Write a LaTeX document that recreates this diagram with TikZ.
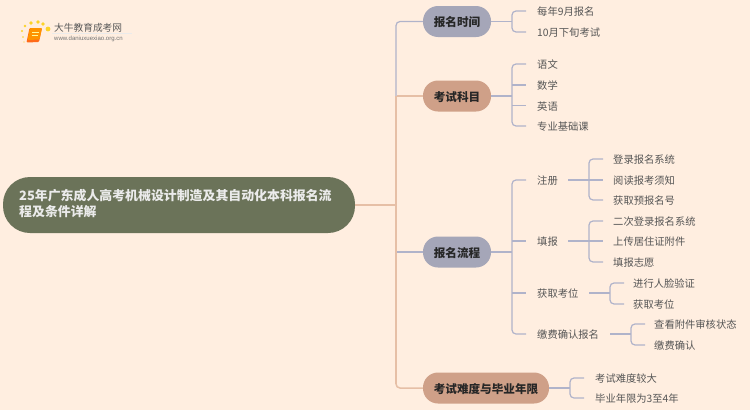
\documentclass[tikz,border=0pt]{standalone}
\usepackage{fontspec}
\setmainfont{Noto Sans CJK SC}
\newfontfamily\logofont{Liberation Sans}
\definecolor{bgc}{HTML}{FFEEE0}
\definecolor{rootc}{HTML}{6B7359}
\definecolor{graybox}{HTML}{A5A6B8}
\definecolor{peachbox}{HTML}{CFA088}
\definecolor{graylink}{HTML}{B0B3CA}
\definecolor{peachlink}{HTML}{E6BFA6}
\definecolor{leaftxt}{HTML}{555555}
\tikzset{
  x=1pt,y=-1pt,
  rootnode/.style={rounded corners=27pt,fill=rootc,draw=none,minimum width=352pt,minimum height=56pt,inner sep=0pt},
  mainnode/.style={rounded corners=15pt,draw=none,minimum height=31pt,inner sep=0pt,text height=11.6pt,text depth=1.4pt,font=\fontsize{11.6}{14}\selectfont\bfseries,text=black!85},
  leaf/.style={anchor=west,inner sep=0pt,yshift=-.8pt,font=\fontsize{10.3}{12}\selectfont,text=leaftxt},
  glink/.style={draw=graylink,line width=1.2pt,rounded corners=4pt},
  plink/.style={draw=peachlink,line width=1.5pt,rounded corners=4pt},
}
\begin{document}
\begin{tikzpicture}
\useasboundingbox (0,0) rectangle (750,410);
\fill[bgc] (0,0) rectangle (750,410);
% logo
\foreach \a/\b/\r in {25/26/1.4,22/31/1.1,23/37/.9,24/42/.7,31/23/1.9,38/22/1.9,43/24/1.9,48/29/2.4}
  \fill[yellow!65!orange!85!white] (\a,\b) circle (\r);
\fill[orange!70!red!90!white,rounded corners=1pt] (29.5,28) -- (42,28) -- (39,42) -- (26.5,42.5) -- cycle;
\fill[orange!85!yellow,rounded corners=1pt] (30,28) -- (42,28) -- (39.5,39.5) -- (27.5,40) -- cycle;
\draw[white!60!yellow,line width=.4pt] (32,32) -- (38.5,32) (31.5,35) -- (38,35);
\draw[black!8,line width=.5pt] (52,33.5) -- (132,33.5);
\node[inner sep=0pt,anchor=west,text=black!65] (logoa) at (54,27.5) {\fontsize{9.7}{12}\selectfont 大牛教育成考网};
\node[inner sep=0pt,anchor=west,text=black!55] (logob) at (54,39) {\logofont\fontsize{6.05}{7}\selectfont www.daniuxuexiao.org.cn};
% root
\node[rootnode] (root) at (179,205) {};
\node[inner sep=0pt,anchor=north west,text width=320pt,align=left,text=white!92!black,font=\fontsize{12.9}{15.5}\selectfont\bfseries] (roottxt) at (19,188.8) {25年广东成人高考机械设计制造及其自动化本科报名流\\[.6pt]程及条件详解};
% main nodes
\node[mainnode,fill=graybox,minimum width=68pt] (m1) at (457,21.5) {报名时间};
\node[mainnode,fill=peachbox,minimum width=68pt] (m2) at (457,96) {考试科目};
\node[mainnode,fill=graybox,minimum width=68pt] (m3) at (457,252) {报名流程};
\node[mainnode,fill=peachbox,minimum width=126pt] (m4) at (486,388) {考试难度与毕业年限};
% leaves
\node[leaf] (a1) at (537,11) {每年9月报名};
\node[leaf] (a2) at (537,32) {10月下旬考试};
\node[leaf] (b1) at (537,64) {语文};
\node[leaf] (b2) at (537,85) {数学};
\node[leaf] (b3) at (537,105.5) {英语};
\node[leaf] (b4) at (537,126) {专业基础课};
\node[leaf] (c1) at (537,180) {注册};
\node[leaf] (c2) at (537,241) {填报};
\node[leaf] (c3) at (537,293) {获取考位};
\node[leaf] (c4) at (537,334) {缴费确认报名};
\node[leaf] (d1) at (613,159) {登录报名系统};
\node[leaf] (d2) at (613,180) {阅读报考须知};
\node[leaf] (d3) at (613,200) {获取预报名号};
\node[leaf] (e1) at (613,221) {二次登录报名系统};
\node[leaf] (e2) at (613,241) {上传居住证附件};
\node[leaf] (e3) at (613,262) {填报志愿};
\node[leaf] (f1) at (633,283) {进行人脸验证};
\node[leaf] (f2) at (633,304) {获取考位};
\node[leaf] (g1) at (654,324) {查看附件审核状态};
\node[leaf] (g2) at (654,345) {缴费确认};
\node[leaf] (h1) at (595,378) {考试难度较大};
\node[leaf] (h2) at (595,398) {毕业年限为3至4年};
% coordinates for free ends of branches
\foreach \n/\x/\y in {ca1/526/11,ca2/526/32,cb1/526/64,cb2/526/85,cb3/526/105.5,cb4/526/126,
  cc1/526/180,cc2/526/241,cc3/526/293,cc4/526/334,
  cd1/603/159,cd2/603/180,cd3/603/200,ce1/603/221,ce2/603/241,ce3/603/262,
  cf1/624/283,cf2/624/304,cg1/645/324,cg2/645/345,ch1/584/378,ch2/584/398,
  sc1/568/180,sc2/568/241,sc3/589/293,sc4/610/334}
  \coordinate (\n) at (\x,\y);
% spine
\draw[glink] (m1.west) -- (396,21.5) -- (396,96);
\draw[glink] (396,252) -- (m3.west);
\draw[plink] (root.east) -- (396,205);
\draw[plink,rounded corners=0pt] (396,96) -- (396,384);
\draw[plink] (m2.west) -- (396.6,96);
\draw[plink] (396,380) -- (396,388) -- (m4.west);
% branches
\draw[glink] (m1.east) -- (512,21.5);
\draw[glink] (ca1) -- (512,11) -- (512,32) -- (ca2);
\draw[glink] (m2.east) -- (512,96);
\draw[glink] (cb1) -- (512,64) -- (512,126) -- (cb4);
\draw[glink] (512,85) -- (cb2) (512,105.5) -- (cb3);
\draw[glink] (m3.east) -- (512,252);
\draw[glink] (cc1) -- (512,180) -- (512,334) -- (cc4);
\draw[glink] (512,241) -- (cc2) (512,293) -- (cc3);
\draw[glink] (sc1) -- (589,180);
\draw[glink] (cd1) -- (589,159) -- (589,200) -- (cd3);
\draw[glink] (589,180) -- (cd2);
\draw[glink] (sc2) -- (589,241);
\draw[glink] (ce1) -- (589,221) -- (589,262) -- (ce3);
\draw[glink] (589,241) -- (ce2);
\draw[glink] (sc3) -- (610,293);
\draw[glink] (cf1) -- (610,283) -- (610,304) -- (cf2);
\draw[glink] (sc4) -- (631,334);
\draw[glink] (cg1) -- (631,324) -- (631,345) -- (cg2);
\draw[glink] (m4.east) -- (570,388);
\draw[glink] (ch1) -- (570,378) -- (570,398) -- (ch2);
\end{tikzpicture}
\end{document}
